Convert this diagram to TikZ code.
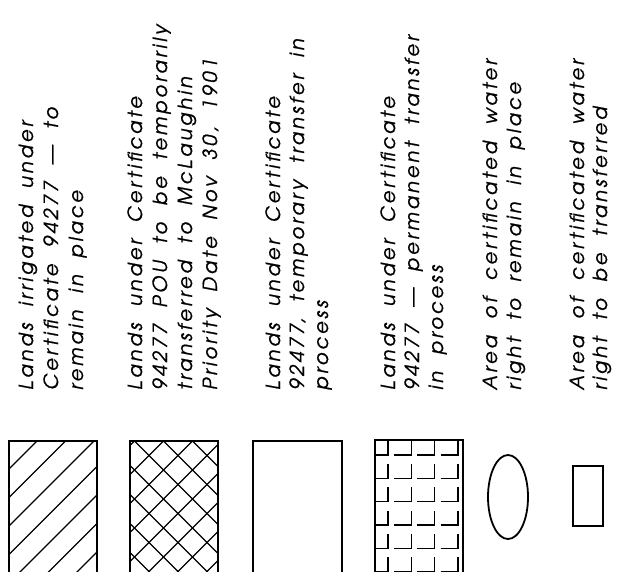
\documentclass[tikz,border=0pt]{standalone}
\usepackage{fontspec}
\newfontfamily\legfont{TeX Gyre Adventor}[LetterSpace=15,WordSpace=2,FakeBold=0.8]
\begin{document}
\begin{tikzpicture}[x=1pt,y=-1pt,
  frame/.style={draw=black,line width=1.8pt},
  hatchline/.style={draw=black,line width=1.2pt},
  legtext/.style={rotate=90,anchor=base west,inner sep=0pt,font=\legfont\itshape\fontsize{19.5}{22}\selectfont}]
\useasboundingbox (0,0) rectangle (617,571);
% swatch 1: single hatch
\begin{scope}
  \clip (9,441) rectangle (97,600);
  \foreach \k in {-8,...,8} {
    \draw[hatchline] ({478+28.5*\k-200},200) -- ({478+28.5*\k-700},700);
  }
\end{scope}
\draw[frame] (9,600) -- (9,441) -- (97,441) -- (97,600);
% swatch 2: cross hatch
\begin{scope}
  \clip (130,441) rectangle (218,600);
  \foreach \k in {-10,...,10} {
    \draw[hatchline] ({575.5+29*\k-200},200) -- ({575.5+29*\k-700},700);
    \draw[hatchline] ({-306.5+29*\k+200},200) -- ({-306.5+29*\k+700},700);
  }
\end{scope}
\draw[frame] (130,600) -- (130,441) -- (218,441) -- (218,600);
% swatch 3: empty
\draw[frame] (253,600) -- (253,441) -- (342,441) -- (342,600);
% swatch 4: tile pattern
\begin{scope}
  \clip (375,440) rectangle (463,600);
  \foreach \i in {0,...,4} {
    \foreach \j in {0,...,6} {
      \pgfmathsetmacro{\xl}{364.7+23.3*\i}
      \pgfmathsetmacro{\xr}{\xl+23.3}
      \pgfmathsetmacro{\yt}{431.7+23.3*\j}
      \pgfmathsetmacro{\yb}{\yt+23.3}
      \draw[hatchline] ({\xl+6},\yb) -- (\xr,\yb) -- (\xr,{\yt+9});
    }
  }
\end{scope}
\draw[frame] (375,600) -- (375,440) -- (463,440) -- (463,600);
% swatch 5: ellipse
\draw[frame] (508,497) ellipse [x radius=20,y radius=42];
% swatch 6: small rectangle
\draw[frame] (573,466) rectangle (603,526);
% texts
\node[legtext] (a1) at (33,390) {Lands irrigated under};
\node[legtext] (a2) at (58,390) {Certificate 94277 — to};
\node[legtext] (a3) at (83,390) {remain in place};
\node[legtext] (b1) at (142,390) {Lands under Certificate};
\node[legtext] (b2) at (167,390) {94277 POU to be temporarily};
\node[legtext] (b3) at (192,390) {transferred to McLaughin};
\node[legtext] (b4) at (217,390) {Priority Date Nov 30, 1901};
\node[legtext] (c1) at (280,390) {Lands under Certificate};
\node[legtext] (c2) at (304,390) {92477, temporary transfer in};
\node[legtext] (c3) at (328,390) {process};
\node[legtext] (d1) at (395,390) {Lands under Certificate};
\node[legtext] (d2) at (419,390) {94277 — permanent transfer};
\node[legtext] (d3) at (443,390) {in process};
\node[legtext] (e1) at (497,390) {Area of certificated water};
\node[legtext] (e2) at (521,390) {right to remain in place};
\node[legtext] (f1) at (584,390) {Area of certificated water};
\node[legtext] (f2) at (607,390) {right to be transferred};
\end{tikzpicture}
\end{document}
